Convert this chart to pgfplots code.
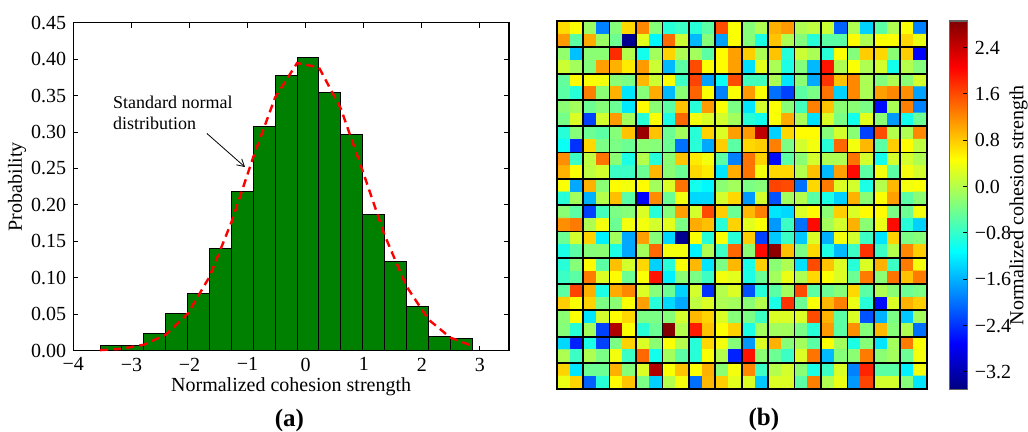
\documentclass[border=0pt]{standalone}
\usepackage{fontspec}
\setmainfont{Liberation Serif}
\usepackage{pgfplots}
\pgfplotsset{compat=1.18}
\usetikzlibrary{arrows.meta}

\definecolor{histgreen}{HTML}{008000}

\newcommand{\lbl}{\fontsize{10}{12}\selectfont}

\begin{document}
\begin{tikzpicture}
\useasboundingbox (0,0) rectangle (514pt,216pt);

% (a) histogram of normalized cohesion strength
\begin{axis}[
    at={(36.65pt,40.65pt)}, anchor=south west,
    scale only axis, width=217.85pt, height=164pt,
    clip=false,
    xmin=-4, xmax=3.5, ymin=0, ymax=0.45,
    xtick={-4,-3,-2,-1,0,1,2,3},
    xticklabels={−4,−3,−2,−1,0,1,2,3},
    ytick={0,0.05,0.1,0.15,0.2,0.25,0.3,0.35,0.4,0.45},
    yticklabels={0.00,0.05,0.10,0.15,0.20,0.25,0.30,0.35,0.40,0.45},
    tick align=inside, major tick length=2.5pt,
    tick style={black, line width=0.5pt},
    axis line style={black, line width=0.6pt},
    tick label style={font=\lbl},
    label style={font=\lbl},
    xlabel={Normalized cohesion strength},
    ylabel={Probability},
    xlabel style={at={(axis description cs:0.5,-0.11)}, anchor=center},
    ylabel style={at={(axis description cs:-0.129,0.5)}, anchor=center},
  ]
  \addplot[ybar interval, fill=histgreen, draw=black, line width=0.5pt]
    coordinates {
      (-3.540,0.0065) (-3.163,0.0065) (-2.786,0.024) (-2.409,0.051)
      (-2.032,0.078) (-1.656,0.140) (-1.279,0.218) (-0.902,0.307)
      (-0.525,0.378) (-0.148,0.402) (0.229,0.354) (0.606,0.296)
      (0.983,0.187) (1.360,0.1225) (1.736,0.061) (2.113,0.020)
      (2.490,0.017) (2.867,0)
    };
  % standard normal pdf at the bin edges
  \addplot[red, line width=1.2pt, dash pattern=on 4pt off 2.6pt]
    coordinates {
      (-3.540,0.00076) (-3.163,0.00268) (-2.786,0.00823) (-2.409,0.02191)
      (-2.032,0.0506) (-1.656,0.1013) (-1.279,0.1761) (-0.902,0.2656)
      (-0.525,0.3476) (-0.148,0.3946) (0.229,0.3886) (0.606,0.3320)
      (0.983,0.2461) (1.360,0.1582) (1.736,0.0882) (2.113,0.0428)
      (2.490,0.01797) (2.867,0.00655)
    };
  \node[anchor=north west, align=left, inner sep=0pt,
        font=\fontsize{9}{10.5}\selectfont]
    at (axis cs:-3.322,0.350) {Standard normal\\distribution};
  \draw[black, line width=0.4pt, -{Straight Barb[length=3.5pt,width=4pt]}]
    (axis cs:-1.70,0.298) -- (axis cs:-1.045,0.252);
  \node[font=\bfseries\fontsize{12.5}{14}\selectfont]
    at (axis description cs:0.496,-0.214) {(a)};
\end{axis}

% (b) map of cohesion strength, one value per cell, rows from top
\begin{axis}[
    at={(278.35pt,21.35pt)}, anchor=south west,
    scale only axis, width=185pt, height=184.15pt,
    clip=false,
    xmin=-0.5, xmax=27.5, ymin=-0.5, ymax=27.5,
    y dir=reverse, enlargelimits=false, axis on top,
    xtick={1.5,3.5,5.5,7.5,9.5,11.5,13.5,15.5,17.5,19.5,21.5,23.5,25.5},
    ytick={1.5,3.5,5.5,7.5,9.5,11.5,13.5,15.5,17.5,19.5,21.5,23.5,25.5},
    xticklabels={}, yticklabels={}, major tick length=0pt,
    grid=major, major grid style={black, line width=0.9pt},
    axis line style={black, line width=0.9pt},
    colormap/jet, point meta min=-3.5, point meta max=2.86,
    colorbar, colorbar/width=9pt,
    colorbar style={
      at={(parent axis.north east)}, anchor=north west, xshift=3pt,
      scale only axis, width=9pt,
      ytick={-3.2,-2.4,-1.6,-0.8,0,0.8,1.6,2.4},
      yticklabels={−3.2,−2.4,−1.6,−0.8,0.0,0.8,1.6,2.4},
      yticklabel pos=right, ytick pos=right,
      tick align=inside, major tick length=2.5pt,
      tick style={black, line width=0.5pt},
      axis line style={black!60, line width=0.6pt},
      tick label style={font=\lbl},
      ylabel={Normalized cohesion strength},
      ylabel style={font=\lbl, at={(axis description cs:3.82,0.5)}, anchor=center},
    },
  ]
  \addplot[matrix plot*, mesh/cols=28, point meta=explicit]
    table[row sep=\\, header=false,
          y expr={floor((\coordindex+0.5)/28)},
          x expr={\coordindex-28*floor((\coordindex+0.5)/28)},
          meta index=0] {
0.7\\ 0.45\\ -0.15\\ -1.9\\ -0.28\\ 0.72\\ 1.22\\ -0.28\\ -0.87\\ -0.75\\ -0.87\\ -0.55\\ 1.59\\ 0.45\\ -0.28\\ -0.03\\ 0.96\\ 1.1\\ -0.03\\ 0.07\\ 0.16\\ -2.1\\ -0.03\\ -1.4\\ -0.55\\ -0.03\\ 0.45\\ -1.9\\
1.1\\ -0.55\\ 1.0\\ -0.15\\ -0.42\\ -3.4\\ 0.3\\ -1.15\\ 1.4\\ 0.16\\ -1.55\\ -0.28\\ -1.7\\ 0.45\\ -0.28\\ -0.95\\ 0.85\\ -0.03\\ -0.3\\ -0.87\\ -0.55\\ -0.55\\ 0.5\\ -0.03\\ 0.45\\ 0.45\\ 0.72\\ 0.35\\
-0.2\\ -1.5\\ -0.25\\ -0.25\\ 1.8\\ 0.0\\ -1.0\\ -0.1\\ 0.75\\ -0.03\\ -0.1\\ -0.55\\ 0.5\\ 1.07\\ 0.78\\ -0.05\\ 0.85\\ -0.87\\ 0.16\\ -0.05\\ -0.87\\ 0.45\\ -0.3\\ 0.78\\ 0.72\\ -0.25\\ 0.78\\ -2.7\\
0.16\\ -0.1\\ -0.3\\ 1.07\\ 0.96\\ 0.6\\ 1.1\\ 0.16\\ -1.55\\ -0.55\\ 1.6\\ 0.45\\ 0.5\\ 1.07\\ -1.3\\ 0.3\\ -0.05\\ -0.95\\ -0.3\\ -1.55\\ 1.94\\ -0.03\\ 0.45\\ -0.03\\ 0.2\\ -1.0\\ 0.0\\ -0.3\\
-0.5\\ 0.5\\ 0.45\\ 0.4\\ -0.25\\ -0.35\\ 0.92\\ 0.16\\ 0.45\\ -0.75\\ 1.65\\ -1.7\\ -1.05\\ 1.6\\ -0.7\\ -0.7\\ -0.05\\ -1.27\\ -0.25\\ -1.65\\ 1.75\\ 0.85\\ 1.22\\ -0.05\\ -0.3\\ -0.03\\ -0.25\\ 0.2\\
-0.55\\ -0.87\\ 1.27\\ -0.25\\ 0.96\\ -1.27\\ -0.28\\ 1.0\\ -1.55\\ -0.25\\ 1.45\\ 0.45\\ -1.9\\ 0.45\\ 1.1\\ 0.45\\ -2.0\\ -2.3\\ -0.55\\ -0.35\\ 1.35\\ -1.4\\ 1.22\\ -0.05\\ 1.07\\ 1.22\\ 1.18\\ -1.7\\
-0.25\\ -0.1\\ -0.45\\ -0.28\\ -0.45\\ -1.25\\ 0.5\\ -0.25\\ -0.55\\ 0.85\\ -0.87\\ 1.1\\ 0.45\\ -0.35\\ -1.27\\ 0.2\\ 0.45\\ -0.28\\ -0.7\\ 1.27\\ 0.85\\ -0.25\\ -0.25\\ -0.35\\ -2.65\\ -0.05\\ 1.27\\ -1.9\\
-0.38\\ 0.25\\ -2.3\\ 0.2\\ 1.1\\ -0.1\\ -0.87\\ 0.45\\ -0.95\\ 1.42\\ 0.4\\ 0.25\\ 0.2\\ -0.1\\ -0.87\\ -1.0\\ 0.45\\ 1.0\\ -0.05\\ -1.3\\ 0.25\\ -0.35\\ -1.0\\ 0.3\\ -0.25\\ -1.75\\ -1.0\\ -0.45\\
-0.87\\ -0.28\\ -0.45\\ -0.55\\ -0.28\\ 0.85\\ 2.7\\ 0.85\\ -0.45\\ -0.1\\ -0.87\\ 0.75\\ 0.25\\ 1.07\\ 1.1\\ 2.46\\ -1.4\\ 0.72\\ 0.5\\ 0.5\\ -0.28\\ 0.2\\ -0.25\\ -2.3\\ 1.6\\ 0.0\\ -0.03\\ 1.22\\
-1.05\\ -2.4\\ 0.72\\ -0.35\\ -0.35\\ -0.45\\ -0.25\\ -0.28\\ -0.45\\ -2.0\\ -0.87\\ -1.65\\ 0.78\\ -0.55\\ 0.72\\ 0.78\\ 1.27\\ -0.35\\ 0.2\\ 0.4\\ -0.87\\ 1.42\\ 0.4\\ 0.92\\ -0.55\\ 0.78\\ 0.5\\ 0.07\\
1.18\\ -0.75\\ 0.07\\ 1.35\\ -0.25\\ -0.95\\ 0.0\\ -0.87\\ -0.25\\ 0.85\\ 0.6\\ 0.4\\ -0.55\\ -1.9\\ 1.35\\ 0.75\\ -2.65\\ -0.55\\ -0.25\\ 0.2\\ -0.03\\ -0.03\\ 1.35\\ 0.2\\ -1.0\\ 0.2\\ 0.2\\ -0.03\\
0.96\\ 0.45\\ 0.07\\ 0.2\\ -0.75\\ -0.75\\ -0.45\\ 0.92\\ -0.25\\ -0.45\\ 0.72\\ 0.6\\ -1.27\\ 1.0\\ 1.35\\ 0.4\\ 0.72\\ 0.72\\ 0.0\\ 0.87\\ -1.55\\ 1.07\\ 2.0\\ -0.55\\ 0.4\\ -0.55\\ 0.4\\ 0.2\\
0.45\\ -1.65\\ 0.96\\ -0.25\\ 0.5\\ 0.4\\ 0.5\\ -0.1\\ 0.25\\ 1.35\\ -1.0\\ -1.15\\ -0.25\\ -0.1\\ -0.35\\ -0.28\\ 1.65\\ 1.6\\ -2.0\\ 0.72\\ 1.3\\ 0.25\\ 0.2\\ -0.95\\ 0.0\\ 0.92\\ 0.4\\ 0.45\\
-0.87\\ -0.1\\ -1.6\\ 0.0\\ 0.87\\ -0.55\\ -2.7\\ 1.2\\ -0.45\\ 0.4\\ -1.35\\ -1.35\\ 0.2\\ 0.72\\ -1.75\\ 0.2\\ -2.2\\ -0.1\\ 0.0\\ -0.55\\ -0.95\\ -1.4\\ 0.96\\ -0.25\\ 0.45\\ 1.07\\ -0.55\\ -0.25\\
-0.25\\ -0.55\\ -2.3\\ -0.7\\ -0.35\\ -0.28\\ 0.25\\ -0.87\\ -0.28\\ 1.07\\ 0.2\\ 1.6\\ 0.78\\ -0.45\\ 0.92\\ 1.27\\ -1.27\\ -1.35\\ 0.25\\ 0.5\\ -0.25\\ 0.78\\ 0.25\\ 0.5\\ 0.5\\ -0.35\\ -0.45\\ 0.4\\
1.18\\ 1.3\\ -0.03\\ 0.4\\ -0.45\\ 0.4\\ 0.4\\ 0.2\\ 0.3\\ -0.35\\ 1.0\\ 0.87\\ -0.87\\ 0.75\\ 0.3\\ 0.45\\ -1.75\\ -0.75\\ -2.0\\ 2.0\\ -0.1\\ 0.2\\ 0.96\\ -0.25\\ 0.35\\ 2.0\\ -0.87\\ -1.4\\
-0.45\\ 0.2\\ 0.75\\ -1.2\\ -0.1\\ -1.65\\ 1.07\\ -0.28\\ -1.35\\ -3.4\\ 0.45\\ -0.87\\ 0.45\\ -0.87\\ 0.78\\ -2.3\\ -1.45\\ -0.75\\ -1.45\\ 0.25\\ -1.6\\ 0.4\\ 0.2\\ -0.75\\ -1.27\\ 0.75\\ -0.35\\ -0.28\\
-0.95\\ -0.55\\ -0.28\\ -0.25\\ -0.95\\ -1.65\\ -0.1\\ 1.42\\ 0.4\\ 0.4\\ -1.2\\ -0.03\\ -0.75\\ 1.42\\ -0.25\\ 2.0\\ 2.77\\ 0.87\\ -0.35\\ 0.72\\ -0.95\\ -1.55\\ -0.75\\ 1.75\\ -0.75\\ 0.0\\ 1.22\\ 0.78\\
-0.87\\ -0.28\\ 0.5\\ -0.55\\ 0.87\\ 0.2\\ 0.72\\ -1.4\\ -0.87\\ 0.45\\ 0.92\\ -1.27\\ -0.35\\ 0.92\\ -0.95\\ 0.78\\ -0.25\\ -0.03\\ -1.3\\ 1.6\\ 0.85\\ 0.25\\ -0.87\\ 0.25\\ 0.96\\ -0.75\\ 1.3\\ 0.4\\
-0.75\\ -0.55\\ 1.3\\ 0.25\\ 0.5\\ -0.45\\ 0.45\\ 1.95\\ -1.2\\ -0.25\\ -0.35\\ -0.75\\ 0.4\\ 0.3\\ -0.95\\ -0.45\\ -0.1\\ 0.35\\ -0.03\\ 0.72\\ 0.45\\ 0.25\\ -0.45\\ 1.3\\ -0.25\\ 1.35\\ 0.85\\ 1.3\\
-0.55\\ 1.65\\ 0.96\\ -0.95\\ 1.0\\ 1.22\\ 0.25\\ -0.28\\ -0.45\\ -1.4\\ 0.2\\ -2.4\\ 0.0\\ 0.25\\ -2.2\\ -0.87\\ -0.55\\ -0.1\\ 1.6\\ -0.55\\ -0.45\\ -0.28\\ 0.72\\ -0.55\\ -0.03\\ -0.25\\ -0.45\\ -0.35\\
0.78\\ 0.45\\ 0.75\\ -0.35\\ -0.25\\ 0.45\\ 1.07\\ -0.87\\ -1.35\\ -1.65\\ 0.07\\ 0.25\\ -0.03\\ -0.1\\ -0.25\\ 0.0\\ -0.95\\ 1.75\\ -0.45\\ 0.45\\ 0.92\\ 1.27\\ 0.35\\ -0.87\\ -2.65\\ 0.25\\ 0.96\\ 0.78\\
-0.25\\ 0.45\\ -1.27\\ 0.2\\ 0.5\\ 0.72\\ -0.35\\ -0.35\\ -0.28\\ 0.2\\ 0.92\\ 0.75\\ 0.25\\ -0.28\\ -0.35\\ -0.75\\ 0.25\\ 0.25\\ 0.25\\ 1.6\\ 0.96\\ -0.55\\ 0.25\\ -2.2\\ -1.6\\ -0.35\\ -1.45\\ -0.1\\
-0.28\\ -0.87\\ -0.1\\ -2.3\\ 2.56\\ 0.45\\ -0.87\\ -0.45\\ 2.85\\ 0.0\\ 1.9\\ 0.85\\ 0.45\\ 0.75\\ -0.95\\ -0.1\\ -0.1\\ -0.1\\ -0.35\\ -0.87\\ 1.1\\ -0.55\\ 1.18\\ -0.28\\ 0.92\\ -0.28\\ -0.03\\ -2.0\\
-1.35\\ -2.5\\ -0.95\\ -2.3\\ -0.35\\ 0.75\\ 0.25\\ -0.25\\ 0.45\\ 0.0\\ -0.87\\ 0.72\\ 0.4\\ -0.28\\ -1.75\\ 0.25\\ 0.96\\ -0.28\\ -0.1\\ -0.55\\ 0.45\\ -0.1\\ -0.95\\ -0.28\\ -1.27\\ -0.1\\ 1.3\\ 0.45\\
-0.03\\ -0.75\\ -0.03\\ -0.35\\ 0.4\\ -0.75\\ 1.42\\ -1.0\\ -0.1\\ -0.55\\ -0.87\\ 0.45\\ 0.0\\ -2.5\\ 1.95\\ -0.25\\ -0.45\\ -0.75\\ 0.25\\ 1.35\\ -1.55\\ -0.28\\ -0.25\\ 1.3\\ -0.25\\ -0.1\\ -0.45\\ 0.4\\
0.75\\ -1.27\\ -0.45\\ -0.45\\ 0.96\\ -0.28\\ 0.25\\ 2.56\\ 0.45\\ 0.85\\ 0.45\\ 0.96\\ -0.25\\ 0.4\\ 1.22\\ -0.75\\ 0.0\\ 0.2\\ -0.25\\ -0.95\\ -0.75\\ 0.25\\ -1.9\\ 1.85\\ -0.55\\ -0.55\\ -1.2\\ 0.4\\
0.35\\ 0.75\\ -2.1\\ -0.87\\ 0.5\\ 0.85\\ -0.35\\ -1.4\\ 0.0\\ 0.4\\ -2.0\\ 0.92\\ 0.78\\ 0.3\\ 0.25\\ -1.45\\ 0.25\\ 0.25\\ -0.55\\ 1.27\\ -0.03\\ 0.35\\ -1.75\\ 1.65\\ 0.2\\ 0.2\\ -0.28\\ -1.27\\
  };
  \node[font=\bfseries\fontsize{12.5}{14}\selectfont]
    at (axis description cs:0.56,-0.083) {(b)};
\end{axis}
\end{tikzpicture}
\end{document}
